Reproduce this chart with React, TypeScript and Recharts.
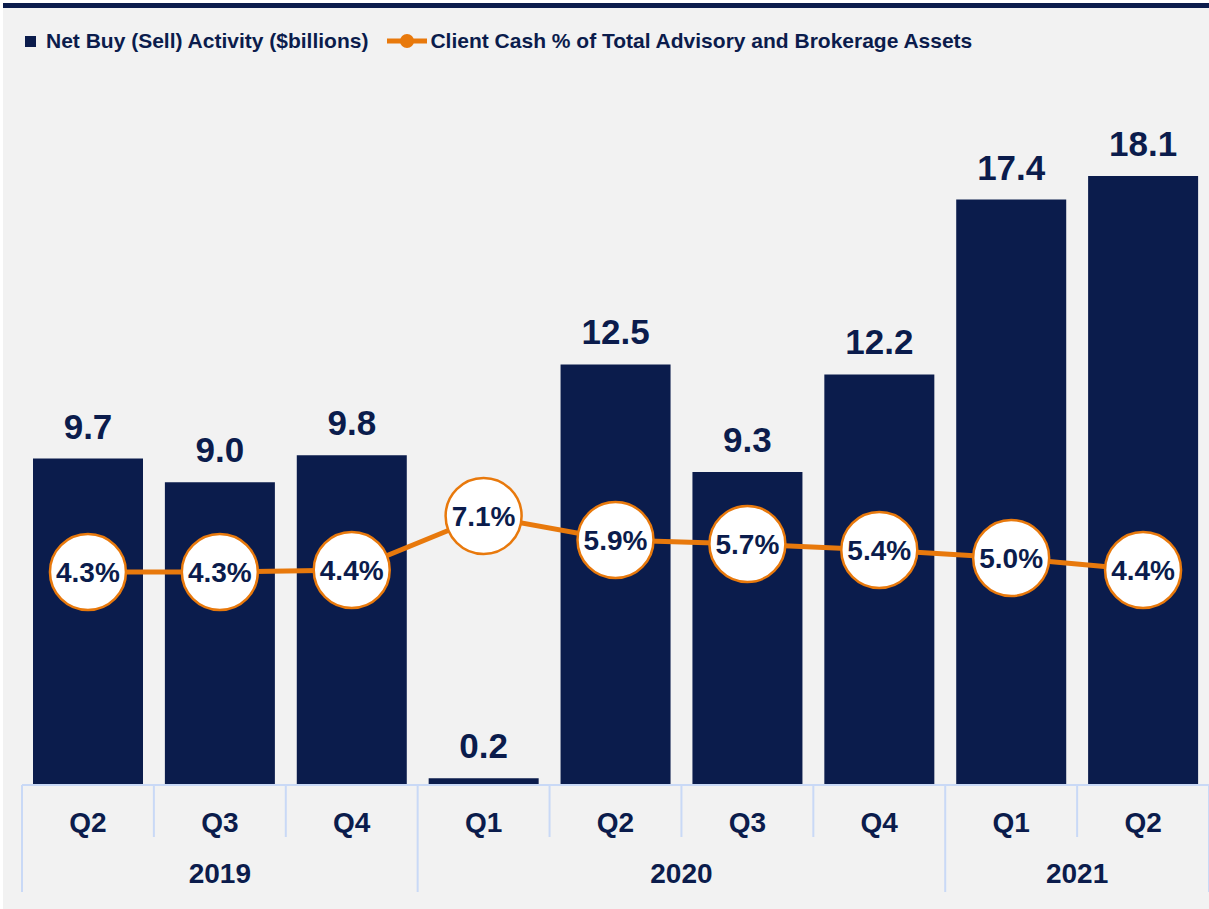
import React from "react";
import {
  ComposedChart,
  Bar,
  Line,
  XAxis,
  YAxis,
  LabelList,
} from "recharts";

// chart values
const quarters = ["Q2", "Q3", "Q4", "Q1", "Q2", "Q3", "Q4", "Q1", "Q2"];
const years = ["2019", "2019", "2019", "2020", "2020", "2020", "2020", "2021", "2021"];
const netBuy = [9.7, 9.0, 9.8, 0.2, 12.5, 9.3, 12.2, 17.4, 18.1];
const cashPct = [4.3, 4.3, 4.4, 7.1, 5.9, 5.7, 5.4, 5.0, 4.4];

const data = quarters.map((q, i) => ({
  key: `${years[i]}-${q}`,
  quarter: q,
  year: years[i],
  netBuy: netBuy[i],
  cashPct: cashPct[i],
}));

const NAVY = "#0b1c4c";
const ORANGE = "#e8790c";
const AXIS = "#c9d9f6";
const FONT = "'Liberation Sans', Arial, sans-serif";

const W = 1209;
const H = 909;

const QuarterTick = (props: any) => {
  const { x, y, payload, index } = props;
  const i = index ?? payload.index;
  const half = payload.offset ?? (W - 22) / quarters.length / 2;
  const left = x - half;
  const yr = years[i];
  const first = years.indexOf(yr) === i;
  const count = years.filter((v) => v === yr).length;
  const last = i === quarters.length - 1;
  return (
    <g>
      <line x1={left} x2={left} y1={y} y2={y + (first ? 107 : 52)} stroke={AXIS} strokeWidth={2} />
      {last && (
        <line x1={x + half} x2={x + half} y1={y} y2={y + 107} stroke={AXIS} strokeWidth={2} />
      )}
      <text
        x={x}
        y={y + 37}
        textAnchor="middle"
        dominantBaseline="central"
        fill={NAVY}
        fontFamily={FONT}
        fontWeight="bold"
        fontSize={28}
      >
        {quarters[i]}
      </text>
      {first && (
        <text
          x={left + count * half}
          y={y + 88}
          textAnchor="middle"
          dominantBaseline="central"
          fill={NAVY}
          fontFamily={FONT}
          fontWeight="bold"
          fontSize={28}
        >
          {yr}
        </text>
      )}
    </g>
  );
};

const PctDot = (props: any) => {
  const { cx, cy, index } = props;
  return <circle key={`dot-${index}`} cx={cx} cy={cy} r={38} fill="#ffffff" stroke={ORANGE} strokeWidth={2.5} />;
};

const PctLabel = (props: any) => {
  const { x, y, value } = props;
  return (
    <text
      x={x}
      y={y}
      textAnchor="middle"
      dominantBaseline="central"
      fill={NAVY}
      fontFamily={FONT}
      fontWeight="bold"
      fontSize={28}
    >
      {`${Number(value).toFixed(1)}%`}
    </text>
  );
};

const App = () => {
  return (
    <div style={{ position: "absolute", left: 0, top: 0, width: W, height: H, background: "#ffffff", overflow: "hidden" }}>
      <div style={{ position: "absolute", left: 3, top: 8, width: W - 3, height: H - 8, background: "#f2f2f2" }} />
      <div style={{ position: "absolute", left: 3, top: 3, width: W - 3, height: 5, background: NAVY }} />

      {/* legend */}
      <div
        style={{
          position: "absolute",
          left: 25,
          top: 29,
          height: 24,
          display: "flex",
          alignItems: "center",
          fontFamily: FONT,
          fontWeight: "bold",
          fontSize: 21,
          color: NAVY,
          whiteSpace: "nowrap",
        }}
      >
        <span style={{ display: "inline-block", width: 11, height: 11, background: NAVY, marginRight: 10 }} />
        <span>Net Buy (Sell) Activity ($billions)</span>
        <svg width={40} height={16} style={{ marginLeft: 19, marginRight: 3 }}>
          <line x1={0} x2={40} y1={8} y2={8} stroke={ORANGE} strokeWidth={5} />
          <circle cx={20} cy={8} r={7} fill={ORANGE} />
        </svg>
        <span>Client Cash % of Total Advisory and Brokerage Assets</span>
      </div>

      <div style={{ position: "absolute", left: 0, top: 0 }}>
        <ComposedChart width={W} height={H} data={data} margin={{ top: 75, right: 0, bottom: 0, left: 22 }}>
          <XAxis
            dataKey="key"
            interval={0}
            height={124}
            tickLine={false}
            tickSize={0}
            tickMargin={0}
            axisLine={{ stroke: AXIS, strokeWidth: 2 }}
            tick={<QuarterTick />}
          />
          <YAxis yAxisId="left" hide domain={[0, 21.1]} />
          <YAxis yAxisId="right" orientation="right" hide domain={[-6.35, 29.15]} allowDataOverflow />
          <Bar yAxisId="left" dataKey="netBuy" fill={NAVY} barSize={110} isAnimationActive={false}>
            <LabelList
              dataKey="netBuy"
              position="top"
              offset={20}
              formatter={(v: any) => Number(v).toFixed(1)}
              fill={NAVY}
              fontFamily={FONT}
              fontWeight="bold"
              fontSize={35}
            />
          </Bar>
          <Line
            yAxisId="right"
            type="linear"
            dataKey="cashPct"
            stroke={ORANGE}
            strokeWidth={5}
            dot={<PctDot />}
            activeDot={false}
            isAnimationActive={false}
          >
            <LabelList dataKey="cashPct" content={<PctLabel />} />
          </Line>
        </ComposedChart>
      </div>
    </div>
  );
};

export default App;
